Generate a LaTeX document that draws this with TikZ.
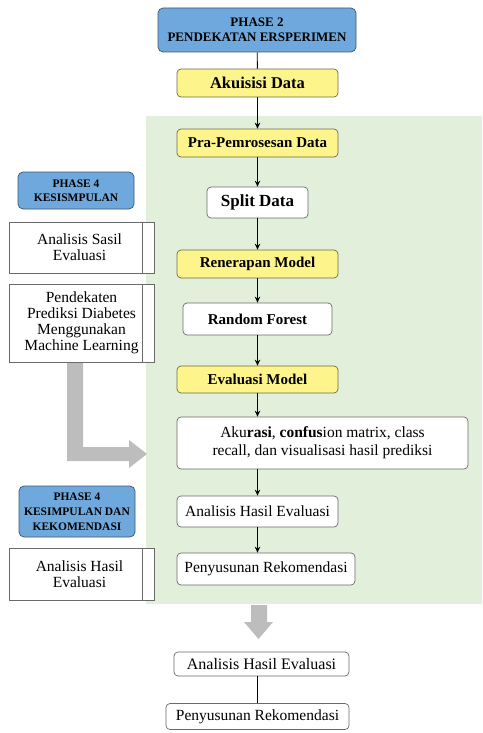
\documentclass[tikz,border=0pt]{standalone}
\usepackage{fontspec}
\setmainfont{Liberation Serif}
\usetikzlibrary{arrows.meta}
\definecolor{phblue}{HTML}{6FA8DC}
\definecolor{phborder}{HTML}{3E5670}
\definecolor{ylw}{HTML}{FDF58C}
\definecolor{ylwborder}{HTML}{6E6A45}
\definecolor{bggreen}{HTML}{E2EFDA}
\definecolor{boxborder}{HTML}{6A6A6A}
\definecolor{blockgray}{HTML}{BDBDBD}
\tikzset{
  base/.style={inner sep=0pt, align=center, anchor=center},
  phasebox/.style={base, draw=phborder, fill=phblue, rounded corners=5pt, line width=0.7pt},
  ybox/.style={base, draw=ylwborder, fill=ylw, rounded corners=4pt, line width=0.7pt,
     font=\fontsize{15}{16}\selectfont\bfseries},
  wbox/.style={base, draw=boxborder, fill=white, rounded corners=4pt, line width=0.7pt},
  wboldbox/.style={wbox, font=\fontsize{15}{16}\selectfont\bfseries},
  wregbox/.style={wbox, font=\fontsize{15.5}{18}\selectfont},
  sidebox/.style={base, draw=boxborder, fill=white, line width=0.7pt,
     font=\fontsize{15.5}{16}\selectfont,
     path picture={\draw[boxborder, line width=0.7pt]
       ([xshift=-12pt]path picture bounding box.north east) --
       ([xshift=-12pt]path picture bounding box.south east);}},
  arr/.style={draw=black, line width=0.9pt, -{Stealth[length=6pt,width=5.5pt]}},
  plain/.style={draw=black, line width=0.9pt},
}
\begin{document}
\begin{tikzpicture}[x=1pt,y=-1pt]
\useasboundingbox (0,0) rectangle (482,733);
\fill[bggreen] (146,116) rectangle (482,604);

% main column
\node[phasebox, minimum width=198pt, minimum height=44pt,
      font=\fontsize{13}{15}\selectfont\bfseries] (p2) at (257,30)
      {PHASE 2\\PENDEKATAN ERSPERIMEN};
\node[ybox, minimum width=161pt, minimum height=28pt, font=\fontsize{16.5}{18}\selectfont\bfseries] (akuisisi) at (257.5,83) {Akuisisi Data};
\node[ybox, minimum width=161pt, minimum height=28pt] (pra) at (257.5,143) {Pra-Pemrosesan Data};
\node[wboldbox, minimum width=101pt, minimum height=31pt, font=\fontsize{17}{18}\selectfont\bfseries] (split) at (257.5,202.5) {Split Data};
\node[ybox, minimum width=161pt, minimum height=28pt] (renerapan) at (257.5,264) {Renerapan Model};
\node[wboldbox, minimum width=149pt, minimum height=32pt] (random) at (257.5,319) {Random Forest};
\node[ybox, minimum width=161pt, minimum height=27pt] (evaluasi) at (257.5,379.5) {Evaluasi Model};
\node[wregbox, minimum width=291pt, minimum height=52pt] (akurasi) at (322.5,443)
      {Aku\textbf{rasi}, \textbf{confus}ion matrix, class\\recall, dan visualisasi hasil prediksi};
\node[wregbox, minimum width=161pt, minimum height=31pt] (analisis) at (257.5,511.5) {Analisis Hasil Evaluasi};
\node[wregbox, minimum width=178pt, minimum height=32pt] (penyusunan) at (266,569) {Penyusunan Rekomendasi};

% left column
\node[phasebox, minimum width=116pt, minimum height=37pt,
      font=\fontsize{11.5}{14}\selectfont\bfseries] (p4a) at (76,190.5) {PHASE 4\\KESISMPULAN};
\node[sidebox, minimum width=145pt, minimum height=51pt] (lsasil) at (81.5,247.5)
      {\hspace*{-4pt}Analisis Sasil\\\hspace*{-4pt}Evaluasi};
\node[sidebox, minimum width=145pt, minimum height=78pt] (lpend) at (81.5,323)
      {Pendekaten\\Prediksi Diabetes\\Menggunakan\\Machine Learning};
\node[phasebox, minimum width=116pt, minimum height=51pt,
      font=\fontsize{11.5}{15}\selectfont\bfseries] (p4b) at (77,511.5) {PHASE 4\\KESIMPULAN DAN\\KEKOMENDASI};
\node[sidebox, minimum width=145pt, minimum height=52pt] (lhasil) at (81.5,574)
      {\hspace*{-4pt}Analisis Hasil\\\hspace*{-4pt}Evaluasi};

% bottom
\node[wregbox, minimum width=175pt, minimum height=24pt, font=\fontsize{16}{18}\selectfont] (banalisis) at (261.5,664) {Analisis Hasil Evaluasi};
\node[wregbox, minimum width=183pt, minimum height=26pt] (bpenyusunan) at (257.5,716.5) {Penyusunan Rekomendasi};

% connectors
\draw[plain] (p2) -- (akuisisi);
\draw[arr] (akuisisi) -- (pra);
\draw[arr] (pra) -- (split);
\draw[arr] (split) -- (renerapan);
\draw[arr] (renerapan) -- (random);
\draw[arr] (random) -- (evaluasi);
\draw[arr] (evaluasi) -- (evaluasi |- akurasi.north);
\draw[arr] (akurasi.south -| analisis) -- (analisis);
\draw[arr] (analisis) -- (analisis |- penyusunan.north);
\draw[plain] (banalisis.south -| bpenyusunan) -- (bpenyusunan);

% gray block arrows
\fill[blockgray] (67,363) -- (83,363) -- (83,447) -- (129,447) -- (129,440) -- (147,454)
   -- (129,468) -- (129,461) -- (67,461) -- cycle;
\fill[blockgray] (251,605) -- (267,605) -- (267,622) -- (273,622) -- (258.5,639)
   -- (244,622) -- (251,622) -- cycle;
\end{tikzpicture}
\end{document}
